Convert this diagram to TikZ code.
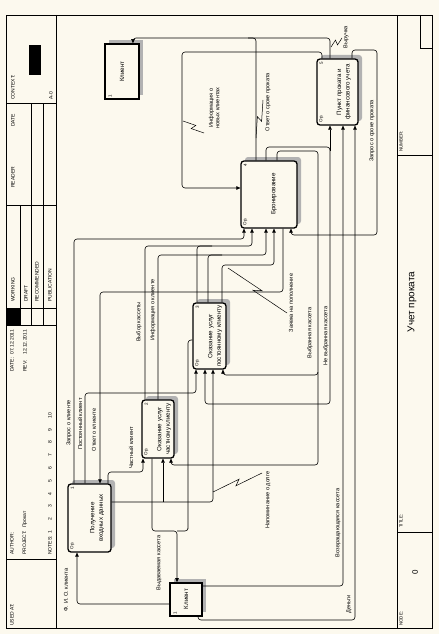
\documentclass[tikz,border=0pt]{standalone}
\usepackage{fontspec}
\setmainfont{Liberation Sans}
\usetikzlibrary{arrows.meta,calc,shadows}
\definecolor{paper}{RGB}{252,249,238}
\tikzset{
  func/.style={draw, line width=1.3pt, rounded corners=3pt, fill=paper, inner sep=0pt,
    drop shadow={shadow xshift=4pt, shadow yshift=4pt, fill=black!30, opacity=1}},
  ext/.style={draw, line width=1.7pt, fill=paper, inner sep=0pt,
    drop shadow={shadow xshift=4pt, shadow yshift=4pt, fill=black!30, opacity=1}},
  flow/.style={line width=0.6pt, rounded corners=3pt, -{Triangle[length=4pt,width=3.6pt]}},
  conn/.style={line width=0.6pt, rounded corners=3pt},
  lbl/.style={rotate=90, inner sep=0pt, font=\fontsize{5.6}{6.5}\selectfont},
  boxtext/.style={rotate=90, inner sep=0pt, align=center, font=\fontsize{6.2}{8.5}\selectfont},
  num/.style={rotate=90, inner sep=0pt, font=\fontsize{4.5}{5}\selectfont},
  hdr/.style={rotate=90, inner sep=0pt, anchor=west, font=\fontsize{5}{6}\selectfont},
}
\newcommand{\molnia}[2]{\draw[line width=0.5pt] (#1) -- ($(#1)!0.55!(#2)!2.5pt!90:(#2)$)
  -- ($(#1)!0.45!(#2)!2.5pt!-90:(#2)$) -- (#2);}
\begin{document}
\begin{tikzpicture}[x=1pt,y=-1pt]
\fill[paper] (0,0) rectangle (439,634);
\useasboundingbox (0,0) rectangle (439,634);
% рамка бланка
\draw[line width=0.6pt] (6,15) rectangle (432,628);
\draw[line width=0.6pt] (56,15) -- (56,628) (397,15) -- (397,628);
\draw[line width=0.4pt] (6,103) -- (56,103) (6,205) -- (56,205) (6,308) -- (56,308)
  (6,325) -- (56,325) (6,559) -- (56,559);
\draw[line width=0.4pt] (20,205) -- (20,325) (31,103) -- (31,325) (43,103) -- (43,325);
\draw[line width=0.4pt] (397,155) -- (432,155) (397,532) -- (432,532) (420,15) |- (432,48);
\fill (6,308) rectangle (20,325); % WORKING
\fill (29,45) rectangle (41,75);  % контекст
%
\node[hdr] (usedat) at (12,626) {USED AT:};
\node[hdr] (author) at (12,555) {AUTHOR:};
\node[hdr] (project) at (25,555) {PROJECT:\ \ Прокат};
\node[hdr] (notes) at (50,555) {NOTES:\ \ 1\hspace{10pt}2\hspace{10pt}3\hspace{10pt}4\hspace{10pt}5\hspace{10pt}6\hspace{10pt}7\hspace{10pt}8\hspace{10pt}9\hspace{10pt}10};
\node[hdr] (date) at (12,372) {DATE:\ \ 07.12.2011};
\node[hdr] (rev) at (25,372) {REV:\ \ \ \ 12.12.2011};
\node[hdr] (working) at (13,302) {WORKING};
\node[hdr] (draft) at (26,302) {DRAFT};
\node[hdr] (recom) at (37,302) {RECOMMENDED};
\node[hdr] (public) at (50,302) {PUBLICATION};
\node[hdr] (reader) at (13,188) {READER};
\node[hdr] (rdate) at (13,127) {DATE};
\node[hdr] (context) at (13,100) {CONTEXT:};
\node[hdr] (azero) at (51,100) {A-0};
\node[hdr, font=\fontsize{4.5}{5}\selectfont] (number) at (401,152) {NUMBER:};
\node[hdr, font=\fontsize{4.5}{5}\selectfont] (title) at (401,528) {TITLE:};
\node[hdr, font=\fontsize{4.5}{5}\selectfont] (nodelbl) at (401,626) {NODE:};
\node[rotate=90, font=\fontsize{10}{12}\selectfont] (ttl) at (412,302) {Учет проката};
\node[rotate=90, font=\fontsize{8}{9}\selectfont] (nodenum) at (415,572) {0};
%
% работы
\node[func, minimum width=43pt, minimum height=68pt] (b1) at (89.5,518) {};
\node[func, minimum width=32pt, minimum height=58pt] (b2) at (158,429) {};
\node[func, minimum width=33pt, minimum height=66pt] (b3) at (209.5,336) {};
\node[func, minimum width=56pt, minimum height=67pt] (b4) at (269,194.5) {};
\node[func, minimum width=41pt, minimum height=66pt] (b5) at (337.5,92) {};
\node[ext, minimum width=34pt, minimum height=55pt] (c1) at (122,71.5) {};
\node[ext, minimum width=32pt, minimum height=33pt] (c2) at (186,599.5) {};
%
\node[boxtext] (t1) at (97,518) {Получение\\входных данных};
\node[boxtext] (t2) at (164,429) {Оказание услуг\\частному клиенту};
\node[boxtext] (t3) at (215,336) {Оказание услуг\\постоянному клиенту};
\node[boxtext] (t4) at (274,194) {Бронирование};
\node[boxtext] (t5) at (344,92) {Пункт проката и\\финансового учета};
\node[boxtext] (tc1) at (122,71.5) {Клиент};
\node[boxtext] (tc2) at (186,599) {Клиент};
%
\node[num] (n1) at ($(b1.north west)+(5,5)$) {1};
\node[num] (n2) at ($(b2.north west)+(5,5)$) {2};
\node[num] (n3) at ($(b3.north west)+(5,5)$) {3};
\node[num] (n4) at ($(b4.north west)+(5,5)$) {4};
\node[num] (n5) at ($(b5.north west)+(5,5)$) {5};
\node[num] (o1) at ($(b1.south west)+(5,-7)$) {Ор.};
\node[num] (o2) at ($(b2.south west)+(5,-7)$) {Ор.};
\node[num] (o3) at ($(b3.south west)+(5,-7)$) {Ор.};
\node[num] (o4) at ($(b4.south west)+(5,-7)$) {Ор.};
\node[num] (o5) at ($(b5.south west)+(5,-7)$) {Ор.};
\node[num] (m1) at ($(c1.south west)+(6,-4)$) {1};
\node[num] (m2) at ($(c2.south west)+(6,-4)$) {1};
%
% стрелки
\draw[flow] (c2.west |- 0,604) -| (77,0 |- b1.south); % Ф.И.О.
\draw[flow] (74,0 |- b1.north) |- (244,239) -- (244,0 |- b4.south);
\draw[flow] (85,0 |- b1.north) |- (196,393) -- (196,0 |- b3.south);
\draw[flow] (283,0 |- b4.south) |- (100,292) -- (100,0 |- b1.north);
\draw[flow] (108,0 |- b1.north) |- (143,472) -- (143,0 |- b2.south);
\draw[flow] (b1.east |- 0,502) -| (213,0 |- b3.south); % напоминание
\draw[flow] (163,502) -- (163,0 |- b2.south);
\draw[flow] (145,0 |- b2.north) |- (252,246) -- (252,0 |- b4.south);
\draw[conn] (197,0 |- b3.north) |- (212,246);
\draw[flow] (158,0 |- b2.north) |- (266,255) -- (266,0 |- b4.south);
\draw[conn] (208,0 |- b3.north) |- (222,255);
\draw[flow] (222,0 |- b3.north) |- (274,265) -- (274,0 |- b4.south);
\draw[flow] (277,0 |- b4.north) |- (318,151) |- (223,375) -- (223,0 |- b3.south); % выбранная
\draw[flow] (318,372) |- (171,465) -- (171,0 |- b2.south);
\draw[flow] (266,0 |- b4.north) |- (330,147) |- (205,404) -- (205,0 |- b3.south); % не выбранная
\draw[flow] (330,151) -- (330,0 |- b5.south);
\draw[flow] (322,0 |- b5.north) |- (182,52) |- (b4.west |- 0,188);
\draw[flow] (330,0 |- b5.north) |- (133,38) -- (133,0 |- c1.north);
\draw[conn] (256,0 |- b4.north) |- (248,38);
\draw[flow] (352,0 |- b5.north) |- (377,50) |- (291,235) -- (291,0 |- b4.south);
\draw[flow] (152,0 |- b2.south) |- (177,531) -- (177,0 |- c2.north); % выдаваемая
\draw[conn] (b3.west |- 0,340) -| (188,526) |- (177,531);
\draw[flow] (c2.east |- 0,586) -| (343,0 |- b5.south);
\draw[flow] (198,0 |- c2.south) |- (355,620) -- (355,0 |- b5.south); % деньги
%
\molnia{183,121}{204,133}
\molnia{256,138}{263,100}
\molnia{331,47}{342,38}
\molnia{228,268}{287,313}
\molnia{213,492}{262,473}
%
\node[lbl] (fio) at (66,590) {Ф. И. О. клиента};
\node[lbl] (zk) at (69,423) {Запрос о клиенте};
\node[lbl] (pk) at (80,424) {Постоянный клиент};
\node[lbl] (ok) at (94,430) {Ответ о клиенте};
\node[lbl] (chk) at (131,448) {Частный клиент};
\node[lbl] (vk) at (159,563) {Выдаваемая кассета};
\node[lbl] (vbk) at (139,322) {Выбор кассеты};
\node[lbl] (ik) at (153,310) {Информация о клиенте};
\node[lbl, align=center] (inc) at (214,108) {Информация о\\новых клиентах};
\node[lbl] (zp) at (291,303) {Заявка на пополнение};
\node[lbl] (vyb) at (310,333) {Выбранная кассета};
\node[lbl] (nvyb) at (326,336) {Не выбранная кассета};
\node[lbl] (nd) at (268,500) {Напоминание о долге};
\node[lbl] (vozv) at (338,523) {Возвращающаяся кассета};
\node[lbl] (den) at (349,604) {Деньги};
\node[lbl] (zsp) at (372,131) {Запрос о сроке проката};
\node[lbl] (osp) at (268,102) {Ответ о сроке проката};
\node[lbl] (vyr) at (346,37) {Выручка};
\end{tikzpicture}
\end{document}
